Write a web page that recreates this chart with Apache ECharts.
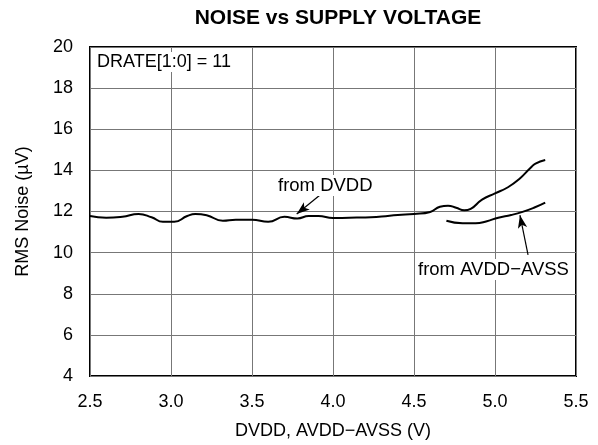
<!DOCTYPE html>
<html>
<head>
<meta charset="utf-8">
<script src="https://cdn.jsdelivr.net/npm/echarts@6/dist/echarts.min.js"></script>
<style>html,body{margin:0;padding:0;background:#fff;}#c{width:598px;height:445px;}</style>
</head>
<body>
<div id="c"></div>
<script>
const xTicks = [2.5, 3.0, 3.5, 4.0, 4.5, 5.0, 5.5];
const yTicks = [4, 6, 8, 10, 12, 14, 16, 18, 20];
const dvddX = [2.5,2.6,2.7,2.8,2.88,2.95,3.02,3.1,3.15,3.22,3.32,3.4,3.5,3.6,3.7,3.78,3.85,3.91,4.0,4.1,4.2,4.3,4.4,4.5,4.6,4.66,4.71,4.76,4.81,4.85,4.92,5.0,5.08,5.15,5.22,5.25,5.31];
const dvddY = [11.78,11.7,11.75,11.88,11.72,11.5,11.5,11.78,11.88,11.82,11.55,11.6,11.6,11.5,11.74,11.66,11.78,11.78,11.68,11.7,11.71,11.76,11.83,11.88,11.98,12.23,12.28,12.18,12.06,12.13,12.58,12.88,13.18,13.58,14.13,14.33,14.5];
const avddX = [4.7,4.8,4.88,4.95,5.02,5.1,5.17,5.24,5.31];
const avddY = [11.55,11.43,11.43,11.53,11.7,11.83,11.98,12.18,12.43];
const arrowDvdd = [[3.92, 12.8], [3.776, 11.88]];
const arrowAvdd = [[5.204, 9.89], [5.154, 11.82]];

const font = 'Liberation Sans, Arial, sans-serif';
const chart = echarts.init(document.getElementById('c'), null, {renderer: 'canvas'});
const zip = (xs, ys) => xs.map((x, i) => [x, ys[i]]);
const arrowLine = (pts) => ({
  symbol: ['none', 'arrow'], symbolSize: [7, 13], silent: true,
  lineStyle: {color: '#000', width: 1.2, type: 'solid'},
  label: {show: false},
  data: [[{coord: pts[0]}, {coord: pts[1]}]]
});
chart.setOption({
  animation: false,
  title: {text: 'NOISE vs SUPPLY VOLTAGE', left: 333, top: 3, textAlign: 'center',
    textStyle: {fontFamily: font, fontSize: 21, fontWeight: 'bold', color: '#000'}},
  grid: {left: 90, right: 22, top: 47, bottom: 69, show: true, borderColor: '#000', borderWidth: 2},
  xAxis: {type: 'value', min: 2.5, max: 5.5, interval: 0.5,
    name: 'DVDD, AVDD\u2212AVSS (V)', nameLocation: 'middle', nameGap: 46,
    nameTextStyle: {fontFamily: font, fontSize: 18, color: '#000'},
    axisLine: {show: false}, axisTick: {show: false},
    axisLabel: {fontFamily: font, fontSize: 18, color: '#000', margin: 17, formatter: v => v.toFixed(1)},
    splitLine: {show: true, lineStyle: {color: '#777', width: 1}}},
  yAxis: {type: 'value', min: 4, max: 20, interval: 2,
    name: 'RMS Noise (\u00b5V)', nameLocation: 'middle', nameGap: 58,
    nameTextStyle: {fontFamily: font, fontSize: 18, color: '#000'},
    axisLine: {show: false}, axisTick: {show: false},
    axisLabel: {fontFamily: font, fontSize: 18, color: '#000', margin: 17},
    splitLine: {show: true, lineStyle: {color: '#777', width: 1}}},
  series: [
    {type: 'line', name: 'from DVDD', data: zip(dvddX, dvddY), smooth: 0.5, showSymbol: false,
      lineStyle: {color: '#000', width: 2}, markLine: arrowLine(arrowDvdd), z: 3},
    {type: 'line', name: 'from AVDD-AVSS', data: zip(avddX, avddY), smooth: 0.5, showSymbol: false,
      lineStyle: {color: '#000', width: 2}, markLine: arrowLine(arrowAvdd), z: 3}
  ],
  graphic: [
    {type: 'text', left: 95, top: 52, z: 10, style: {text: 'DRATE[1:0] = 11', fontFamily: font, fontSize: 18, fill: '#000', backgroundColor: '#fff', padding: [1, 2]}},
    {type: 'text', left: 277, top: 175, z: 10, style: {text: 'from DVDD', fontFamily: font, fontSize: 18.5, fill: '#000', backgroundColor: '#fff', padding: [1, 1]}},
    {type: 'text', left: 416, top: 259, z: 10, style: {text: 'from AVDD\u2212AVSS', fontFamily: font, fontSize: 18.5, fill: '#000', backgroundColor: '#fff', padding: [1, 2]}}
  ]
});
</script>
</body>
</html>
